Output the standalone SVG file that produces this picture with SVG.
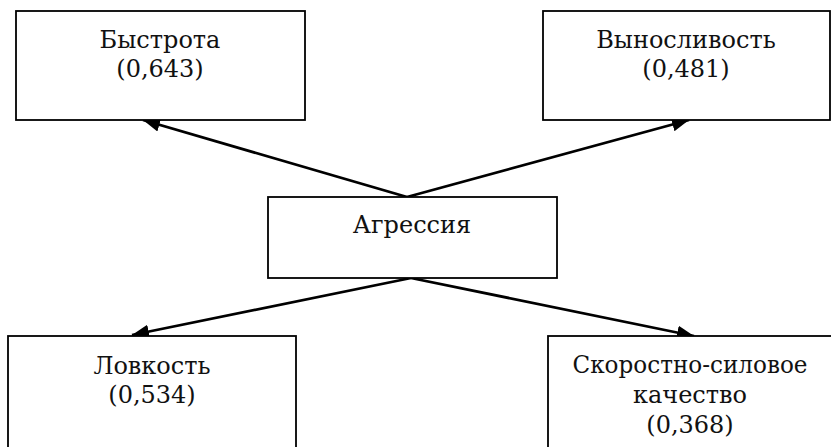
<svg xmlns="http://www.w3.org/2000/svg" width="831" height="447" viewBox="0 0 831 447">
<style>
.box{fill:#fff;stroke:#000;stroke-width:1.8}
.c{stroke:#000;stroke-width:2.8;fill:none;marker-end:url(#ah)}
text{font-family:'DejaVu Serif',serif;font-size:24px;fill:#111;text-anchor:middle}
</style>
<defs>
<marker id="ah" markerUnits="userSpaceOnUse" markerWidth="18" markerHeight="14" refX="17" refY="7" orient="auto">
<path d="M0,0 L17,7 L0,14 Z" fill="#000"/>
</marker>
</defs>
<rect width="831" height="447" fill="#fff"/>
<g id="connectors">
<line class="c" x1="407" y1="197" x2="143" y2="120"/>
<line class="c" x1="407" y1="197" x2="689" y2="120"/>
<line class="c" x1="411" y1="278" x2="132" y2="335"/>
<line class="c" x1="411" y1="278" x2="694" y2="336"/>
</g>
<g id="bystrota">
<rect class="box" x="16" y="11" width="289" height="109"/>
<text x="160" y="48">Быстрота</text>
<text x="160" y="77">(0,643)</text>
</g>
<g id="vynoslivost">
<rect class="box" x="543" y="11" width="287" height="109"/>
<text x="686" y="48">Выносливость</text>
<text x="686" y="77">(0,481)</text>
</g>
<g id="agressiya">
<rect class="box" x="268" y="197" width="289" height="81"/>
<text x="412" y="233">Агрессия</text>
</g>
<g id="lovkost">
<rect class="box" x="8" y="336" width="288" height="120"/>
<text x="152" y="374">Ловкость</text>
<text x="152" y="403">(0,534)</text>
</g>
<g id="skorostno">
<rect class="box" x="548" y="336" width="300" height="120"/>
<text x="690" y="373" textLength="235" lengthAdjust="spacingAndGlyphs">Скоростно-силовое</text>
<text x="690" y="403">качество</text>
<text x="690" y="433">(0,368)</text>
</g>
</svg>
